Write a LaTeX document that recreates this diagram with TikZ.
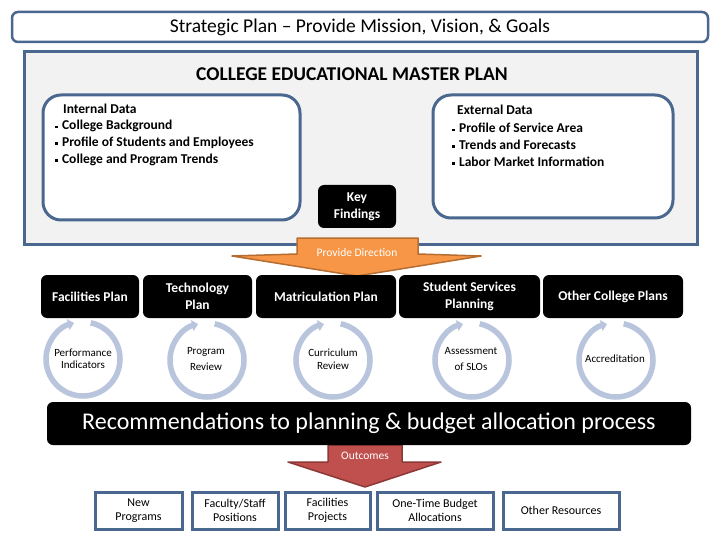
\documentclass[tikz,border=0pt]{standalone}
\usepackage{fontspec}
\setmainfont{Carlito}
\usetikzlibrary{arrows.meta}

\definecolor{frameblue}{RGB}{74,104,143}
\definecolor{panelgray}{RGB}{242,242,242}
\definecolor{ringblue}{RGB}{184,197,220}
\definecolor{dirorange}{RGB}{247,150,70}
\definecolor{dirorangedark}{RGB}{182,109,49}
\definecolor{outred}{RGB}{192,80,77}
\definecolor{outreddark}{RGB}{140,56,54}

\newcommand{\sqbullet}{\raisebox{0.3ex}{\rule{2.4pt}{2.4pt}}\hspace{4.5pt}}

\tikzset{
  stratbox/.style={draw=frameblue, line width=2.5pt, fill=white, rounded corners=6pt,
    font=\fontsize{19.5}{22}\selectfont},
  masterbox/.style={draw=frameblue, line width=3pt, fill=panelgray},
  databox/.style={draw=frameblue, line width=3pt, fill=white, rounded corners=18pt},
  datatext/.style={anchor=north west, inner sep=0pt, align=left,
    font=\fontsize{13.5}{16.8}\selectfont\bfseries},
  blackbox/.style={fill=black, rounded corners=6pt, text=white, align=center,
    inner sep=0pt, font=\fontsize{13.5}{17}\selectfont\bfseries},
  cyclearrow/.style={draw=ringblue, line width=5.5pt,
    -{Triangle[length=6pt,width=11pt]}},
  cycletext/.style={align=center, inner sep=0pt, font=\fontsize{11}{12.5}\selectfont},
  outbox/.style={draw=frameblue, line width=3pt, fill=white, align=center,
    inner sep=0pt, minimum height=37pt, font=\fontsize{12}{14}\selectfont},
  arrowtext/.style={text=white, inner sep=0pt, font=\fontsize{11.5}{13}\selectfont}
}

\begin{document}
\begin{tikzpicture}[x=1pt,y=1pt]
  \useasboundingbox[fill=white] (0,0) rectangle (720,-540);

  % Strategic plan on top
  \node[stratbox, minimum width=696pt, minimum height=30pt] (strat) at (360,-27)
    {Strategic Plan -- Provide Mission, Vision, \& Goals};

  % Master plan panel
  \node[masterbox, minimum width=673pt, minimum height=192pt] (master) at (360.5,-148) {};
  \node[font=\fontsize{19.5}{22}\selectfont\bfseries] (mastertitle) at (352,-74)
    {COLLEGE EDUCATIONAL MASTER PLAN};

  % Internal and external data
  \node[databox, minimum width=257pt, minimum height=125pt] (internal) at (171.5,-157.5) {};
  \node[datatext] (internaltext) at (55,-103.5)
    {\hspace{8pt}Internal Data\\
     \sqbullet College Background\\
     \sqbullet Profile of Students and Employees\\
     \sqbullet College and Program Trends};
  \node[databox, minimum width=240pt, minimum height=123pt] (external) at (553,-156.5) {};
  \node[datatext] (externaltext) at (452,-105)
    {\hspace{5pt}External Data\\[1.5pt]
     \sqbullet Profile of Service Area\\
     \sqbullet Trends and Forecasts\\
     \sqbullet Labor Market Information};

  \node[blackbox, minimum width=78pt, minimum height=43pt] (keyfind) at (357,-206.5)
    {Key\\Findings};

  % Arrow: provide direction
  \draw[fill=dirorange, draw=dirorangedark, line width=1.5pt, line join=round]
    (297,-238) -- (418,-238) -- (418,-254) -- (481,-256) -- (357,-276)
    -- (232,-256) -- (297,-254) -- cycle;
  \node[arrowtext] (direction) at (357,-253) {Provide Direction};

  % Plans
  \node[blackbox, minimum width=98pt, minimum height=43pt] (facplan) at (90,-296.5)
    {Facilities Plan};
  \node[blackbox, minimum width=109pt, minimum height=43pt] (techplan) at (197.5,-296.5)
    {Technology\\Plan};
  \node[blackbox, minimum width=140pt, minimum height=43pt] (matricplan) at (326,-296.5)
    {Matriculation Plan};
  \node[blackbox, minimum width=141pt, minimum height=43pt] (studplan) at (469.5,-296.5)
    {Student Services\\Planning};
  \node[blackbox, minimum width=140pt, minimum height=43pt] (otherplan) at (613,-296.5)
    {Other College Plans};

  % Review cycles
  \draw[cyclearrow] (83,-359) ++(78:37) arc (78:-256:37);
  \node[cycletext] (perfind) at (83,-359) {Performance\\Indicators};
  \draw[cyclearrow] (207,-360) ++(78:37) arc (78:-256:37);
  \node[cycletext] (progrev) at (206,-359) {Program\\[4pt]Review};
  \draw[cyclearrow] (333,-360) ++(78:37) arc (78:-256:37);
  \node[cycletext] (currrev) at (333,-359) {Curriculum\\Review};
  \draw[cyclearrow] (472,-360) ++(78:37) arc (78:-256:37);
  \node[cycletext] (slos) at (471,-359) {Assessment\\[4pt]of SLOs};
  \draw[cyclearrow] (616,-360) ++(78:37) arc (78:-256:37);
  \node[cycletext] (accred) at (615,-359) {Accreditation};

  % Arrow: outcomes
  \draw[fill=outred, draw=outreddark, line width=1.5pt, line join=round]
    (328,-445) -- (402,-445) -- (402,-462) -- (441,-462) -- (365,-487)
    -- (288,-462) -- (328,-462) -- cycle;

  % Recommendations
  \node[blackbox, minimum width=644pt, minimum height=43pt,
    font=\fontsize{24}{28}\selectfont] (recommend) at (369,-423.5)
    {Recommendations to planning \& budget allocation process};
  \node[arrowtext] (outcomes) at (365,-456) {Outcomes};

  % Outcomes
  \node[outbox, minimum width=87pt] (newprog) at (138.5,-510.5) {New\\Programs};
  \node[outbox, minimum width=86pt] (faculty) at (235,-510.5) {Faculty/Staff\\Positions};
  \node[outbox, minimum width=85pt] (facproj) at (327.5,-510.5) {Facilities\\Projects};
  \node[outbox, minimum width=116pt] (onetime) at (435,-510.5) {One-Time Budget\\Allocations};
  \node[outbox, minimum width=116pt] (otherres) at (561,-510.5) {Other Resources};
\end{tikzpicture}
\end{document}
